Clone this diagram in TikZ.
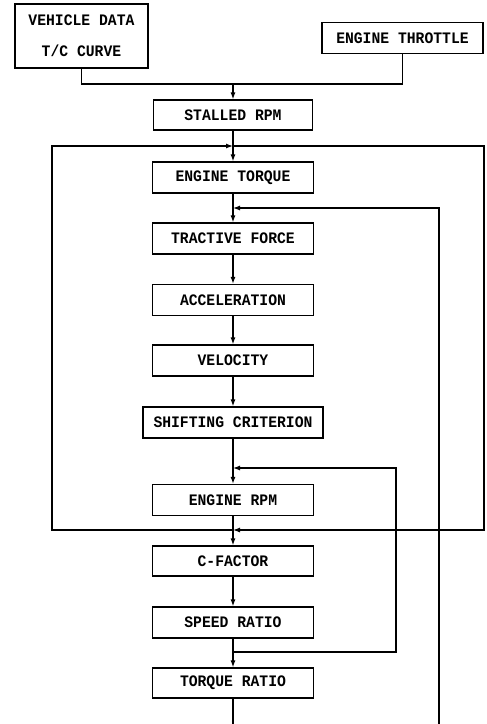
\documentclass[tikz,border=0pt]{standalone}
\usepackage{fontspec}
\newfontfamily\typefont[FakeStretch=0.92]{Liberation Mono}
\usetikzlibrary{arrows.meta}
\begin{document}
\begin{tikzpicture}[x=1pt, y=-1pt, line width=1.2pt,
  blk/.style={draw, minimum width=161pt, minimum height=31pt, inner sep=0pt,
    font=\typefont\bfseries\fontsize{16}{31}\selectfont},
  arr/.style={-{Latex[length=7pt,width=5pt]}}]
  \useasboundingbox (0,0) rectangle (487,724);
  \node[blk, minimum width=133pt, minimum height=64pt, align=center] (vd) at (81.5,36) {VEHICLE DATA\\T/C CURVE};
  \node[blk] (thr) at (402.5,38) {ENGINE THROTTLE};
  \node[blk, minimum width=159pt, minimum height=30pt] (stall) at (233,115) {STALLED RPM};
  \node[blk] (etq) at (233,177.5) {ENGINE TORQUE};
  \node[blk] (trac) at (233,238.5) {TRACTIVE FORCE};
  \node[blk] (acc) at (233,300) {ACCELERATION};
  \node[blk] (vel) at (233,360.5) {VELOCITY};
  \node[blk, minimum width=180pt] (shift) at (233,422.5) {SHIFTING CRITERION};
  \node[blk] (rpm) at (233,500) {ENGINE RPM};
  \node[blk, minimum height=30pt] (cfac) at (233,561) {C-FACTOR};
  \node[blk] (sr) at (233,622.5) {SPEED RATIO};
  \node[blk, minimum height=30pt] (tr) at (233,683) {TORQUE RATIO};
  \coordinate (merge) at (233,84);
  \coordinate (tj) at (233,146);
  \coordinate (bj) at (233,530);
  \coordinate (lft) at (52,146);
  \coordinate (rgt) at (484,530);
  \coordinate (fbA) at (233,208);
  \coordinate (fbB) at (233,468);
  \coordinate (sj) at (233,652);
  \coordinate (cB) at (396,468);
  \coordinate (out) at (233,724);
  \coordinate (ret) at (439,724);
  \draw (vd.south) |- (merge) -| (thr.south);
  \draw[arr] (merge) -- (stall.north);
  \draw (stall.south) -- (tj);
  \draw[arr] (tj) -- (etq.north);
  \draw[arr] (bj) -| (lft) -- (tj);
  \draw[arr] (tj) -| (rgt) -- (bj);
  \draw[arr] (etq.south) -- (trac.north);
  \draw[arr] (trac.south) -- (acc.north);
  \draw[arr] (acc.south) -- (vel.north);
  \draw[arr] (vel.south) -- (shift.north);
  \draw[arr] (shift.south) -- (rpm.north);
  \draw[arr] (rpm.south) -- (cfac.north);
  \draw[arr] (cfac.south) -- (sr.north);
  \draw[arr] (sr.south) -- (tr.north);
  \draw (tr.south) -- (out);
  \draw[arr] (ret) |- (fbA);
  \draw[arr] (sj) -| (cB) -- (fbB);
\end{tikzpicture}
\end{document}
